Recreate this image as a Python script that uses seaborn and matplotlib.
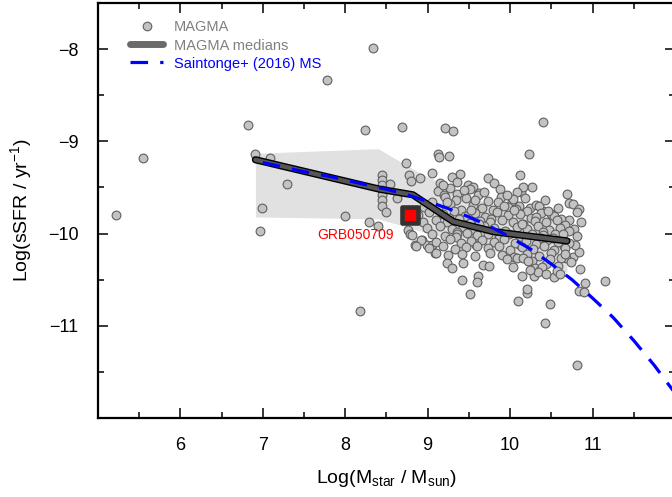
import numpy as np
import pandas as pd
import matplotlib
matplotlib.use("Agg")
import matplotlib.pyplot as plt
import matplotlib.patheffects as pe
from matplotlib.lines import Line2D
from matplotlib.markers import MarkerStyle
from matplotlib.ticker import MultipleLocator
import seaborn as sns

# ---------------- data ----------------
# MAGMA galaxies: isolated / sparse objects
sparse_mass = [5.22, 5.55, 6.82, 6.90, 7.09, 6.99, 7.29, 6.97, 7.78, 8.34, 8.24, 8.69,
               8.00, 8.18, 9.21, 9.31, 10.40, 10.23, 10.69, 9.13, 9.14, 9.26, 8.74,
               9.73, 9.81, 10.12, 10.27, 11.15, 10.81, 10.42, 10.49, 10.09, 10.21,
               10.21, 9.51, 9.42, 9.61, 10.15, 10.29, 10.91, 10.84, 10.90, 8.29, 8.40,
               8.63, 9.39, 9.30, 9.05, 8.91, 8.77, 8.80, 8.45, 8.45, 8.45, 8.45, 8.45,
               8.45, 8.45, 8.54, 8.50, 9.15, 9.13, 9.27, 9.49, 9.55, 9.51, 9.88, 9.89,
               10.02, 10.13, 10.16, 10.11, 10.24, 10.40, 10.71, 10.76, 10.83, 10.81,
               10.72, 10.86, 10.78, 10.81, 8.76, 8.78, 8.85, 8.93, 8.99, 9.05, 9.09,
               9.20, 9.35, 9.62, 10.08, 10.53, 10.76, 10.68, 10.83, 10.79, 9.60]
sparse_ssfr = [-9.80, -9.18, -8.82, -9.14, -9.18, -9.72, -9.46, -9.97, -8.34, -7.99, -8.88, -8.85,
               -9.81, -10.84, -8.86, -8.89, -8.79, -9.14, -9.57, -9.14, -9.17, -9.16, -9.23,
               -9.40, -9.45, -9.37, -9.49, -10.51, -11.43, -10.97, -10.76, -10.73, -10.64,
               -10.60, -10.66, -10.50, -10.46, -10.46, -10.46, -10.54, -10.62, -10.63, -9.88, -9.92,
               -9.61, -9.35, -9.39, -9.34, -9.40, -9.37, -9.43, -9.36, -9.42, -9.47, -9.53, -9.58,
               -9.64, -9.70, -9.46, -9.77, -9.45, -9.54, -9.51, -9.47, -9.49, -9.52, -9.52, -9.60,
               -9.65, -9.55, -9.50, -9.70, -9.72, -9.76, -9.67, -9.68, -9.73, -9.77,
               -9.85, -9.88, -9.95, -10.03, -9.96, -10.00, -10.12, -10.07, -10.12, -10.12, -10.21,
               -9.58, -9.57, -9.56, -9.55, -10.47, -10.25, -10.26, -10.20, -10.12, -10.53]

# MAGMA galaxies: dense main-sequence cloud
core_mass = [9.05, 9.21, 9.34, 9.46, 9.61, 9.73, 9.85, 10.03, 10.31, 9.98,
             8.95, 9.12, 9.27, 9.40, 9.55, 9.66, 9.79, 9.92, 10.07, 10.20, 10.35, 10.50,
             8.88, 9.01, 9.19, 9.32, 9.45, 9.58, 9.70, 9.84, 9.97, 10.12, 10.25, 10.38, 10.53, 10.62,
             9.26, 9.52, 9.77, 10.05, 10.31, 10.46,
             8.94, 9.10, 9.24, 9.38, 9.51, 9.63, 9.76, 9.90, 10.04, 10.16, 10.30, 10.44, 10.57, 10.66,
             8.99, 9.15, 9.30, 9.43, 9.55, 9.68, 9.81, 9.94, 10.08, 10.21, 10.34, 10.47, 10.60, 10.71,
             9.36, 9.62, 9.88, 10.14, 10.40, 10.55,
             8.81, 9.05, 9.21, 9.35, 9.48, 9.60, 9.73, 9.86, 9.99, 10.12, 10.26, 10.40, 10.52, 10.64,
             9.34, 9.59, 9.86, 10.12, 10.38, 10.65,
             8.92, 9.10, 9.27, 9.40, 9.53, 9.66, 9.80, 9.93, 10.06, 10.19, 10.32, 10.45, 10.58, 10.72,
             8.86, 9.02, 9.18, 9.33, 9.46, 9.60, 9.73, 9.87, 10.00, 10.14, 10.28, 10.41, 10.53, 10.66,
             9.10, 9.25, 9.42, 9.58, 9.76, 9.90, 10.05, 10.20, 10.35, 10.50, 10.62,
             9.24, 9.43, 9.67, 9.75, 10.08, 10.26, 10.44, 10.58, 10.74, 10.16,
             9.30, 10.30, 10.36, 10.39, 10.57, 10.85, 10.60,
             9.18, 9.24, 9.36, 9.44, 9.58, 9.68, 9.96, 10.18, 10.42, 10.58,
             9.96, 10.04, 10.22, 10.34, 10.48, 10.66, 10.24, 10.44]
core_ssfr = [-9.66, -9.60, -9.64, -9.61, -9.58, -9.65, -9.66, -9.63, -9.69, -9.71,
             -9.71, -9.73, -9.68, -9.74, -9.69, -9.72, -9.75, -9.70, -9.73, -9.76, -9.70, -9.79,
             -9.80, -9.77, -9.79, -9.76, -9.81, -9.78, -9.82, -9.77, -9.80, -9.79, -9.83, -9.78, -9.81, -9.84,
             -9.83, -9.75, -9.84, -9.74, -9.82, -9.76,
             -9.88, -9.85, -9.87, -9.84, -9.89, -9.86, -9.88, -9.85, -9.87, -9.90, -9.86, -9.88, -9.85, -9.91,
             -9.94, -9.92, -9.95, -9.93, -9.96, -9.92, -9.94, -9.97, -9.93, -9.95, -9.92, -9.96, -9.94, -9.97,
             -9.98, -9.90, -9.99, -9.90, -9.98, -10.00,
             -10.02, -10.00, -10.03, -10.01, -9.99, -10.02, -10.00, -10.03, -10.01, -10.04, -10.00, -10.02, -10.05, -10.01,
             -10.04, -10.12, -10.05, -10.12, -10.05, -10.13,
             -10.07, -10.09, -10.06, -10.10, -10.08, -10.07, -10.09, -10.06, -10.10, -10.08, -10.11, -10.07, -10.09, -10.10,
             -10.13, -10.16, -10.14, -10.17, -10.15, -10.13, -10.16, -10.14, -10.18, -10.15, -10.17, -10.14, -10.18, -10.16,
             -10.21, -10.23, -10.22, -10.24, -10.21, -10.23, -10.25, -10.22, -10.24, -10.21, -10.26,
             -10.32, -10.32, -10.34, -10.35, -10.27, -10.30, -10.33, -10.35, -10.31, -10.26,
             -10.37, -10.37, -10.39, -10.36, -10.41, -10.38, -10.44,
             -9.47, -9.66, -9.44, -9.53, -9.64, -9.55, -9.58, -9.62, -9.64, -9.72,
             -10.28, -10.36, -10.30, -10.42, -10.28, -10.22, -10.40, -10.44]

# MAGMA binned medians and spread band
median_mass = [6.91, 8.42, 8.82, 9.31, 9.80, 10.69]
median_ssfr = [-9.20, -9.52, -9.58, -9.87, -9.98, -10.08]
band_mass = [6.91, 8.40, 8.82, 9.31, 9.86, 10.69]
band_upper = [-9.13, -9.08, -9.30, -9.52, -9.72, -9.88]
band_lower = [-9.82, -9.84, -9.95, -10.07, -10.20, -10.42]

# Saintonge+ (2016) star-forming main sequence
ms_mass = [7.00, 7.25, 7.50, 7.75, 8.00, 8.25, 8.50, 8.75, 9.00, 9.25, 9.50, 9.75,
           10.00, 10.25, 10.50, 10.75, 11.00, 11.25, 11.50, 11.75, 12.00]
ms_ssfr = [-9.23, -9.28, -9.33, -9.37, -9.42, -9.47, -9.52, -9.58, -9.65, -9.73, -9.82, -9.92,
           -10.04, -10.17, -10.33, -10.50, -10.70, -10.91, -11.16, -11.43, -11.73]

# GRB host
grb_mass = [8.79]
grb_ssfr = [-9.80]
grb_name = "GRB050709"

# ---------------- style ----------------
sns.set_theme(style="ticks")
plt.rcParams["font.family"] = ["Liberation Sans", "DejaVu Sans"]
plt.rcParams["mathtext.fontset"] = "custom"
plt.rcParams["mathtext.rm"] = "Liberation Sans"
plt.rcParams["mathtext.it"] = "Liberation Sans:italic"
plt.rcParams["mathtext.bf"] = "Liberation Sans:bold"

fig = plt.figure(figsize=(6.72, 4.97), dpi=100)
ax = fig.add_axes([0.1458, 0.159, 0.8586, 0.835])

magma = pd.DataFrame({"mass": sparse_mass + core_mass, "ssfr": sparse_ssfr + core_ssfr})

ax.fill_between(band_mass, band_lower, band_upper, color="#e1e1e1", lw=0, zorder=1)

sns.scatterplot(data=magma, x="mass", y="ssfr", ax=ax, s=40, color="#c3c3c3",
                edgecolor="#606060", linewidth=0.8, zorder=2, legend=False)

sns.lineplot(x=median_mass, y=median_ssfr, ax=ax, sort=False, estimator=None,
             color="#555555", lw=3.2, zorder=3,
             path_effects=[pe.Stroke(linewidth=5.2, foreground="black"), pe.Normal()])

sns.lineplot(x=ms_mass, y=ms_ssfr, ax=ax, sort=False, estimator=None,
             color="#0000ff", lw=2.3, zorder=4)
ax.lines[-1].set_dashes([5.5, 3.8])

square = MarkerStyle("s", joinstyle="round")
ax.plot(grb_mass, grb_ssfr, marker=square, ms=11.8, mew=3.3, mfc="#ff0000",
        mec="#333333", ls="none", zorder=5)
ax.text(8.13, -10.02, grb_name, color="#ff0000", fontsize=10, ha="center", va="center",
        zorder=6)

ax.set_xlim(5, 12)
ax.set_ylim(-12, -7.5)
ax.set_xticks([6, 7, 8, 9, 10, 11])
ax.set_yticks([-11, -10, -9, -8])
ax.xaxis.set_minor_locator(MultipleLocator(0.5))
ax.yaxis.set_minor_locator(MultipleLocator(0.5))
ax.tick_params(which="both", direction="in", top=True, right=True, width=1.1, color="black")
ax.tick_params(which="major", length=7.5, labelsize=13, pad=14, labelcolor="black")
ax.tick_params(which="minor", length=4)
for sp in ax.spines.values():
    sp.set_linewidth(1.6)
    sp.set_color("black")

ax.set_xlabel(r"Log(M$_{\rm star}$ / M$_{\rm sun}$)", fontsize=14, labelpad=10, color="black")
ax.set_ylabel(r"Log(sSFR / yr$^{-1}$)", fontsize=14, labelpad=10, color="black")

handles = [
    Line2D([], [], marker="o", ls="none", ms=6.2, mfc="#c3c3c3", mec="#606060", mew=0.8),
    Line2D([], [], color="#6a6a6a", lw=5),
    Line2D([], [], color="#0000ff", lw=2.3, dashes=[5.5, 3.8]),
]
leg = ax.legend(handles, ["MAGMA", "MAGMA medians", "Saintonge+ (2016) MS"],
                loc="upper left", bbox_to_anchor=(0.045, 0.972), frameon=False,
                fontsize=10.5, handlelength=2.3, handletextpad=0.7, labelspacing=0.28,
                borderaxespad=0)
for txt, c in zip(leg.get_texts(), ["#808080", "#808080", "#0000ff"]):
    txt.set_color(c)

fig.savefig("out.png", dpi=100)
